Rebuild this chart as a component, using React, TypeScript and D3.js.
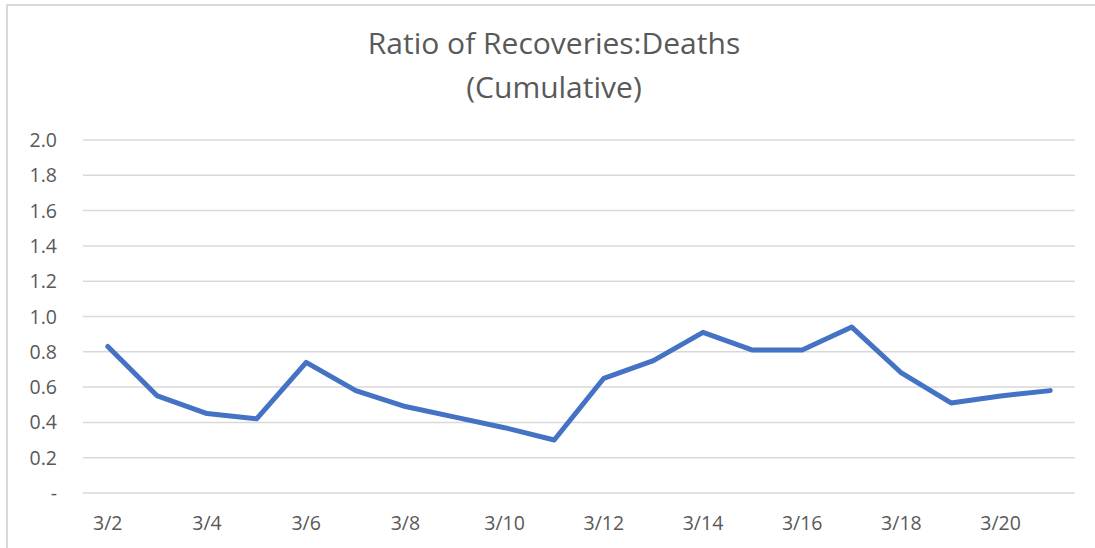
import React, { useRef, useEffect } from 'react';
import * as d3 from 'd3';

const dates = [
  '3/2', '3/3', '3/4', '3/5', '3/6', '3/7', '3/8', '3/9', '3/10', '3/11',
  '3/12', '3/13', '3/14', '3/15', '3/16', '3/17', '3/18', '3/19', '3/20', '3/21'
];

const ratios = [
  0.83, 0.55, 0.45, 0.42, 0.74, 0.58, 0.49, 0.43, 0.37, 0.30,
  0.65, 0.75, 0.91, 0.81, 0.81, 0.94, 0.68, 0.51, 0.55, 0.58
];

const yTicks = [0, 0.2, 0.4, 0.6, 0.8, 1.0, 1.2, 1.4, 1.6, 1.8, 2.0];

const titleLines = ['Ratio of Recoveries:Deaths', '(Cumulative)'];

const RatioChart = () => {
  const chartRef = useRef<SVGSVGElement>(null);

  useEffect(() => {
    const width = 1095;
    const height = 548;
    const marginTop = 140;
    const marginRight = 20;
    const marginBottom = 55;
    const marginLeft = 83;
    const font = '"Open Sans", "Noto Sans", sans-serif';
    const textColor = '#595959';

    const svg = d3.select(chartRef.current)
      .attr('width', width)
      .attr('height', height)
      .attr('viewBox', [0, 0, width, height].join(' '))
      .style('font-family', font);

    svg.selectAll('*').remove();

    svg.append('rect')
      .attr('width', width)
      .attr('height', height)
      .attr('fill', '#ffffff');

    // chart frame (only the top and left edges are in view)
    svg.append('path')
      .attr('d', `M7,${height} V5 H${width}`)
      .attr('fill', 'none')
      .attr('stroke', '#d9d9d9')
      .attr('stroke-width', 2);

    const x = d3.scaleBand()
      .domain(dates)
      .range([marginLeft, width - marginRight]);

    const y = d3.scaleLinear()
      .domain([0, 2])
      .range([height - marginBottom, marginTop]);

    svg.append('g')
      .selectAll('line')
      .data(yTicks)
      .join('line')
      .attr('x1', marginLeft)
      .attr('x2', width - marginRight)
      .attr('y1', d => y(d))
      .attr('y2', d => y(d))
      .attr('stroke', '#d9d9d9')
      .attr('stroke-width', 1.5);

    svg.append('g')
      .selectAll('text')
      .data(yTicks)
      .join('text')
      .attr('x', 57)
      .attr('y', d => y(d))
      .attr('dy', '0.36em')
      .attr('text-anchor', 'end')
      .attr('fill', textColor)
      .attr('font-size', 19.5)
      .text(d => (d === 0 ? '-' : d3.format('.1f')(d)));

    svg.append('g')
      .selectAll('text')
      .data(dates.filter((_, i) => i % 2 === 0))
      .join('text')
      .attr('x', d => x(d)! + x.bandwidth() / 2)
      .attr('y', 530)
      .attr('text-anchor', 'middle')
      .attr('fill', textColor)
      .attr('font-size', 19.5)
      .text(d => d);

    const line = d3.line<number>()
      .x((_, i) => x(dates[i])! + x.bandwidth() / 2)
      .y(d => y(d));

    svg.append('path')
      .datum(ratios)
      .attr('fill', 'none')
      .attr('stroke', '#4472c4')
      .attr('stroke-width', 5)
      .attr('stroke-linejoin', 'round')
      .attr('stroke-linecap', 'round')
      .attr('d', line);

    svg.append('g')
      .selectAll('text')
      .data(titleLines)
      .join('text')
      .attr('x', 554)
      .attr('y', (_, i) => 54 + i * 44)
      .attr('text-anchor', 'middle')
      .attr('fill', textColor)
      .attr('font-size', 30)
      .text(d => d);
  }, []);

  return <svg ref={chartRef} style={{ position: 'absolute', left: 0, top: 0, display: 'block' }}></svg>;
};

export default function App() {
  return <RatioChart />;
}
